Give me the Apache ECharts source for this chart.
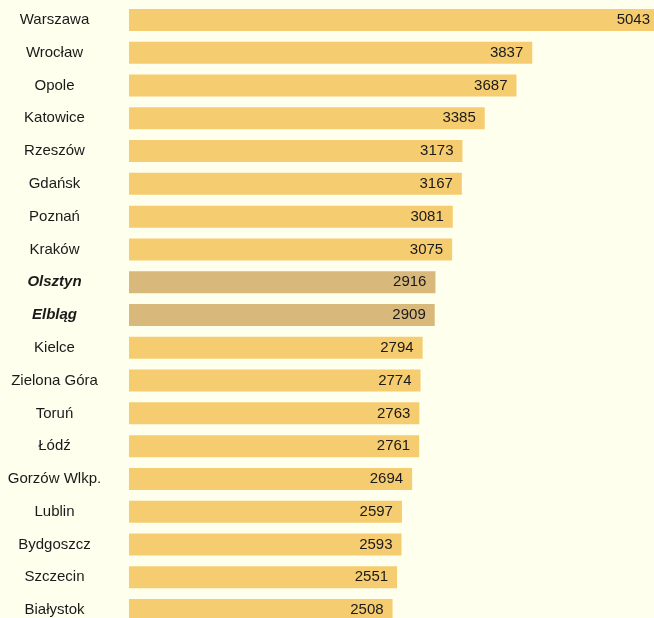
<!DOCTYPE html>
<html>
<head>
<meta charset="utf-8">
<script src="https://cdn.jsdelivr.net/npm/echarts@6/dist/echarts.min.js"></script>
<style>
  html, body { margin: 0; padding: 0; background: #FFFFEE; }
  #chart { width: 654px; height: 618px; }
</style>
</head>
<body>
<div id="chart"></div>
<script>
// miasta i wartości
var cities = ['Warszawa', 'Wrocław', 'Opole', 'Katowice', 'Rzeszów', 'Gdańsk', 'Poznań', 'Kraków',
  'Olsztyn', 'Elbląg', 'Kielce', 'Zielona Góra', 'Toruń', 'Łódź', 'Gorzów Wlkp.', 'Lublin',
  'Bydgoszcz', 'Szczecin', 'Białystok'];
var values = [5043, 3837, 3687, 3385, 3173, 3167, 3081, 3075, 2916, 2909, 2794, 2774, 2763, 2761,
  2694, 2597, 2593, 2551, 2508];
var highlighted = ['Olsztyn', 'Elbląg'];

var barColor = '#F6CC70';
var hiColor = '#D9B97B';
var font = 'Liberation Sans';

var myChart = echarts.init(document.getElementById('chart'));

var option = {
  backgroundColor: '#FFFFEE',
  animation: false,
  grid: {
    left: 129, top: 3.5, width: 530, height: 623,
    containLabel: false,
    outerBoundsMode: 'none'
  },
  xAxis: {
    type: 'value',
    min: 0,
    max: 'dataMax',
    show: false
  },
  yAxis: {
    type: 'category',
    inverse: true,
    data: cities.map(function (c) {
      if (highlighted.indexOf(c) >= 0) {
        return {
          value: c,
          textStyle: { fontWeight: 'bold', fontStyle: 'italic', align: 'center' }
        };
      }
      return c;
    }),
    axisLine: { show: false },
    axisTick: { show: false },
    axisLabel: {
      align: 'center',
      margin: 74.5,
      color: '#1a1a1a',
      fontSize: 15,
      fontFamily: font
    }
  },
  series: [
    {
      type: 'bar',
      barWidth: 22,
      data: values.map(function (v, i) {
        return {
          value: v,
          itemStyle: { color: highlighted.indexOf(cities[i]) >= 0 ? hiColor : barColor }
        };
      }),
      label: {
        show: true,
        position: 'insideRight',
        distance: 9,
        color: '#1a1a1a',
        fontSize: 15,
        fontFamily: font
      }
    }
  ]
};

myChart.setOption(option);
</script>
</body>
</html>
